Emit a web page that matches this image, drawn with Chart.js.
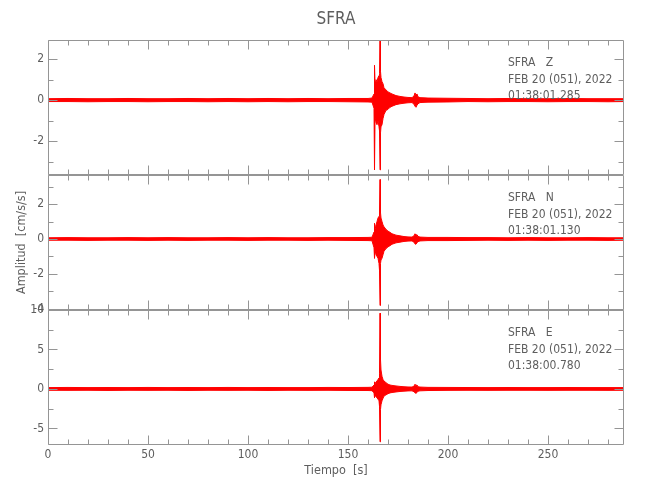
<!DOCTYPE html>
<html>
<head>
<meta charset="utf-8">
<script src="https://cdn.jsdelivr.net/npm/chart.js@4/dist/chart.umd.min.js"></script>
<style>
html, body { margin: 0; padding: 0; background: #fff; }
#wrap { width: 650px; height: 500px; }
</style>
</head>
<body>
<div id="wrap"><canvas id="sismo" width="650" height="500"></canvas></div>
<script>
// tiempo [s] de cada lectura de la envolvente
const tiempo = [0, 10, 20, 30, 40, 50, 60, 70, 80, 90, 100, 110, 120, 130, 140, 150, 160,
    162, 163, 163.25, 163.5, 163.75, 164, 164.5, 165, 165.5, 165.75, 166, 166.25, 166.5, 167, 167.5,
    168, 169, 170, 171, 172, 174, 176, 178, 180, 182, 183, 183.5, 184, 184.5, 185, 186, 188,
    190, 200, 210, 220, 230, 240, 250, 260, 270, 280, 288];

// componente Z (max / min de la traza)
const zHi = [0.07, 0.08, 0.07, 0.07, 0.08, 0.07, 0.07, 0.08, 0.07, 0.08, 0.07, 0.08, 0.07, 0.08, 0.07, 0.08, 0.08,
    0.1, 0.3, 1.7, 0.9, 0.8, 1.0, 0.9, 1.1, 1.2, 1.3, 2.9, 1.4, 1.1, 0.9, 0.8,
    0.6, 0.5, 0.4, 0.35, 0.3, 0.22, 0.18, 0.15, 0.13, 0.12, 0.2, 0.35, 0.25, 0.3, 0.16, 0.12, 0.11,
    0.1, 0.09, 0.08, 0.07, 0.08, 0.07, 0.07, 0.08, 0.07, 0.07, 0.07];
const zLo = [-0.07, -0.07, -0.08, -0.07, -0.07, -0.08, -0.07, -0.07, -0.08, -0.07, -0.08, -0.07, -0.08, -0.07, -0.07, -0.08, -0.09,
    -0.1, -0.4, -3.4, -1.0, -0.9, -1.1, -1.2, -1.0, -1.3, -1.5, -3.4, -1.6, -1.3, -1.2, -0.9,
    -0.7, -0.5, -0.45, -0.35, -0.3, -0.22, -0.18, -0.15, -0.13, -0.12, -0.2, -0.3, -0.35, -0.25, -0.18, -0.12, -0.11,
    -0.1, -0.09, -0.07, -0.08, -0.07, -0.07, -0.08, -0.07, -0.07, -0.08, -0.07];

// componente N
const nHi = [0.07, 0.08, 0.07, 0.07, 0.08, 0.07, 0.08, 0.07, 0.07, 0.08, 0.07, 0.08, 0.07, 0.07, 0.08, 0.08, 0.09,
    0.1, 0.4, 0.9, 0.6, 0.7, 0.8, 1.0, 1.2, 1.3, 1.6, 3.4, 1.5, 1.2, 1.0, 0.8,
    0.7, 0.55, 0.45, 0.38, 0.3, 0.22, 0.18, 0.14, 0.12, 0.11, 0.18, 0.3, 0.22, 0.25, 0.15, 0.11, 0.1,
    0.09, 0.09, 0.08, 0.08, 0.07, 0.08, 0.07, 0.07, 0.08, 0.07, 0.07];
const nLo = [-0.07, -0.07, -0.08, -0.07, -0.07, -0.08, -0.07, -0.08, -0.07, -0.07, -0.08, -0.07, -0.07, -0.08, -0.07, -0.08, -0.09,
    -0.1, -0.5, -1.1, -0.8, -0.7, -0.9, -1.0, -1.1, -1.4, -1.8, -3.8, -1.4, -1.2, -1.1, -0.9,
    -0.7, -0.55, -0.45, -0.38, -0.3, -0.22, -0.18, -0.14, -0.12, -0.11, -0.18, -0.28, -0.3, -0.22, -0.15, -0.11, -0.1,
    -0.09, -0.09, -0.08, -0.07, -0.08, -0.07, -0.08, -0.07, -0.07, -0.08, -0.07];

// componente E
const eHi = [0.17, 0.19, 0.17, 0.18, 0.17, 0.19, 0.17, 0.18, 0.17, 0.19, 0.17, 0.18, 0.17, 0.17, 0.19, 0.18, 0.2,
    0.22, 0.5, 0.9, 0.7, 0.8, 0.9, 1.0, 1.2, 1.4, 2.0, 9.6, 3.7, 2.4, 1.6, 1.2,
    1.0, 0.8, 0.6, 0.5, 0.45, 0.38, 0.32, 0.28, 0.25, 0.24, 0.35, 0.6, 0.45, 0.5, 0.28, 0.24, 0.22,
    0.2, 0.19, 0.18, 0.17, 0.18, 0.17, 0.17, 0.18, 0.17, 0.17, 0.17];
const eLo = [-0.17, -0.18, -0.17, -0.19, -0.17, -0.18, -0.17, -0.19, -0.17, -0.18, -0.17, -0.19, -0.17, -0.18, -0.17, -0.19, -0.2,
    -0.22, -0.5, -1.1, -0.8, -0.9, -1.0, -1.1, -1.3, -1.5, -2.2, -6.7, -2.6, -2.0, -1.5, -1.2,
    -0.9, -0.75, -0.6, -0.5, -0.45, -0.38, -0.32, -0.28, -0.25, -0.24, -0.35, -0.5, -0.55, -0.45, -0.28, -0.24, -0.22,
    -0.2, -0.18, -0.17, -0.18, -0.17, -0.17, -0.18, -0.17, -0.17, -0.18, -0.17];

const xTicks = [0, 50, 100, 150, 200, 250];
const zTicks = [-2, 0, 2];
const nTicks = [-4, -2, 0, 2];
const eTicks = [-5, 0, 5, 10];

const estacion = 'SFRA';
const fecha = 'FEB 20 (051), 2022';
const componentes = ['Z', 'N', 'E'];
const horas = ['01:38:01.285', '01:38:01.130', '01:38:00.780'];

const FONT = '"DejaVu Sans Condensed", "Liberation Sans Narrow", "Liberation Sans", sans-serif';
const GRIS = '#959595';
const TEXTO = '#5e5e5e';

// top panel last: stacked left boxes are placed in reverse order
const paneles = [
    { id: 'yE', hi: eHi, lo: eLo, ticks: eTicks, min: -7.1, max: 10, minor: 2.5, comp: 2 },
    { id: 'yN', hi: nHi, lo: nLo, ticks: nTicks, min: -4.06, max: 3.66, minor: 1, comp: 1 },
    { id: 'yZ', hi: zHi, lo: zLo, ticks: zTicks, min: -3.65, max: 2.93, minor: 1, comp: 0 },
];

const datasets = [];
paneles.forEach(p => {
    datasets.push({
        data: tiempo.map((t, i) => ({ x: t, y: p.hi[i] })),
        yAxisID: p.id,
        borderColor: '#ff0000',
        backgroundColor: '#ff0000',
        borderWidth: 1,
        pointRadius: 0,
        fill: '+1'
    });
    datasets.push({
        data: tiempo.map((t, i) => ({ x: t, y: p.lo[i] })),
        yAxisID: p.id,
        borderColor: '#ff0000',
        backgroundColor: '#ff0000',
        borderWidth: 1,
        pointRadius: 0,
        fill: false
    });
});

const tickFont = { family: FONT, size: 12 };

const scales = {
    x: {
        type: 'linear',
        min: 0,
        max: 288,
        grid: { display: false, drawTicks: false },
        border: { display: false },
        afterBuildTicks: s => { s.ticks = xTicks.map(v => ({ value: v })); },
        afterFit: s => { s.height = 55; },
        ticks: { font: tickFont, color: TEXTO, padding: 3, maxRotation: 0 }
    }
};
paneles.forEach(p => {
    scales[p.id] = {
        type: 'linear',
        position: 'left',
        stack: 'sismo',
        stackWeight: 1,
        min: p.min,
        max: p.max,
        grid: { display: false, drawTicks: false },
        border: { display: false },
        afterBuildTicks: s => { s.ticks = p.ticks.map(v => ({ value: v })); },
        afterFit: s => { s.width = 48; },
        ticks: { font: tickFont, color: TEXTO, padding: 4 }
    };
});

const marco = {
    id: 'marco',
    afterDatasetsDraw(chart) {
        const { ctx, chartArea: a, scales: sc } = chart;
        const x = sc.x;
        const px = v => Math.round(v) + 0.5;
        ctx.save();
        ctx.strokeStyle = GRIS;
        ctx.lineWidth = 1;
        ctx.beginPath();
        paneles.forEach(p => {
            const y = sc[p.id];
            const top = px(y.top), bot = px(y.bottom - 1);
            const l = px(a.left), r = px(a.right - 1);
            ctx.rect(l, top, r - l, bot - top);
            for (let v = 0; v <= x.max; v += 10) {
                const xx = px(x.getPixelForValue(v));
                const len = xTicks.includes(v) ? 9 : 5;
                ctx.moveTo(xx, top); ctx.lineTo(xx, top + len);
                ctx.moveTo(xx, bot); ctx.lineTo(xx, bot - len);
            }
            const start = Math.ceil(p.min / p.minor) * p.minor;
            for (let v = start; v <= p.max + 1e-9; v += p.minor) {
                const yy = px(y.getPixelForValue(v));
                const len = p.ticks.some(t => Math.abs(t - v) < 1e-9) ? 9 : 5;
                ctx.moveTo(l, yy); ctx.lineTo(l + len, yy);
                ctx.moveTo(r, yy); ctx.lineTo(r - len, yy);
            }
        });
        ctx.stroke();

        ctx.fillStyle = TEXTO;
        ctx.textBaseline = 'middle';
        ctx.textAlign = 'left';
        ctx.font = '12px ' + FONT;
        paneles.forEach(p => {
            const y = sc[p.id];
            const xx = x.getPixelForValue(230);
            ctx.fillText(estacion + '   ' + componentes[p.comp], xx, y.top + 23);
            ctx.fillText(fecha, xx, y.top + 40);
            ctx.fillText(horas[p.comp], xx, y.top + 56);
        });

        const cx = (a.left + a.right) / 2;
        ctx.textAlign = 'center';
        ctx.font = '17px ' + FONT;
        ctx.fillText(estacion, cx, 20);
        ctx.font = '12.5px ' + FONT;
        ctx.fillText('Tiempo  [s]', cx, 471);
        ctx.translate(22, (a.top + a.bottom) / 2);
        ctx.rotate(-Math.PI / 2);
        ctx.fillText('Amplitud  [cm/s/s]', 0, 0);
        ctx.restore();
    }
};

new Chart(document.getElementById('sismo'), {
    type: 'line',
    data: { datasets },
    options: {
        responsive: false,
        animation: false,
        devicePixelRatio: 1,
        layout: { padding: { top: 40, right: 26, left: 0, bottom: 0 } },
        plugins: {
            legend: { display: false },
            tooltip: { enabled: false },
            title: { display: false }
        },
        elements: { line: { tension: 0 } },
        scales
    },
    plugins: [marco]
});
</script>
</body>
</html>
